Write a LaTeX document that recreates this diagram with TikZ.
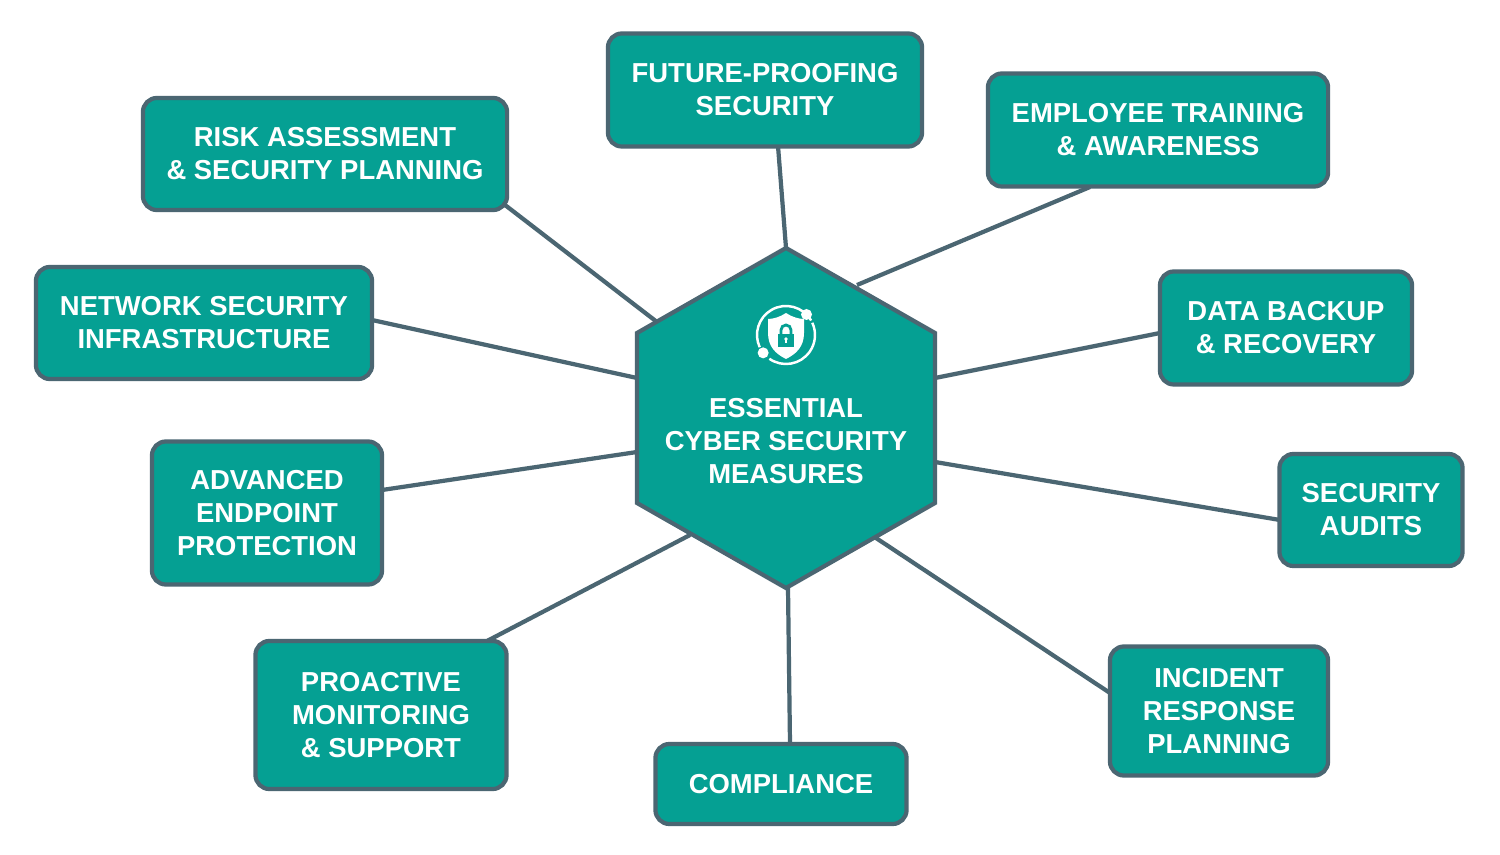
\documentclass[tikz,border=0pt]{standalone}
\usepackage{fontspec}
\setmainfont{Liberation Sans}
\begin{document}
\begin{tikzpicture}[x=0.01cm,y=-0.01cm,
  teal/.style={fill=tealc,draw=edgec,line width=1.2pt},
  box/.style={teal,rounded corners=4pt,text=white,align=center,inner sep=0pt,
    font=\bfseries\fontsize{7.8}{9.4}\selectfont},
  conn/.style={draw=edgec,line width=1.2pt}]
\definecolor{tealc}{HTML}{05A093}
\definecolor{edgec}{HTML}{4B6672}
\useasboundingbox[fill=white] (0,0) rectangle (1500,855);
\coordinate (r1) at (505,205); \coordinate (h1) at (657,322);
\coordinate (r2) at (778,146); \coordinate (h2) at (786,248);
\coordinate (r3) at (1090,187); \coordinate (h3) at (857,285);
\coordinate (r4) at (372,320); \coordinate (h4) at (637,378);
\coordinate (r5) at (1160,333); \coordinate (h5) at (935,378);
\coordinate (r6) at (382,490); \coordinate (h6) at (637,452);
\coordinate (r7) at (1280,520); \coordinate (h7) at (935,462);
\coordinate (r8) at (487,641); \coordinate (h8) at (690,535);
\coordinate (r9) at (790,744); \coordinate (h9) at (788,588);
\coordinate (r10) at (1110,693); \coordinate (h10) at (876,538);
\foreach \i in {1,...,10}{\draw[conn] (r\i) -- (h\i);}
% hexagon
\draw[teal] (786,248) -- (935,333) -- (935,503) -- (786,588) -- (637,503) -- (637,333) -- cycle;
\node[text=white,align=center,font=\bfseries\fontsize{7.8}{9.4}\selectfont] (hex) at (786,441)
  {ESSENTIAL\\CYBER SECURITY\\MEASURES};
% icon
\begin{scope}[shift={(786,335)}]
  \draw[white,line width=0.7pt] (-30:29) arc (-30:-205:29);
  \draw[white,line width=0.7pt] (-235:29) arc (-235:-385:29);
  \fill[white] (-45:29) circle (5.5);
  \fill[white] (-218:29) circle (5.5);
  \fill[white] (0,-22) .. controls (6,-18) and (13,-16) .. (18,-16) -- (18,-2)
     .. controls (18,12) and (10,19) .. (0,24) .. controls (-10,19) and (-18,12) .. (-18,-2)
     -- (-18,-16) .. controls (-13,-16) and (-6,-18) .. cycle;
  \fill[tealc] (-8,-1) rectangle (8,12);
  \draw[tealc,line width=0.8pt] (-5,-1) -- (-5,-5) arc (180:360:5) -- (5,-1);
  \fill[white] (0,4) circle (1.8); \fill[white] (-0.8,4) rectangle (0.8,8);
\end{scope}
% boxes
\node[box,minimum width=3.14cm,minimum height=1.13cm] (fut) at (765,90) {FUTURE-PROOFING\\SECURITY};
\node[box,minimum width=3.64cm,minimum height=1.12cm] (risk) at (325,154) {RISK ASSESSMENT\\\& SECURITY PLANNING};
\node[box,minimum width=3.40cm,minimum height=1.13cm] (emp) at (1158,130) {EMPLOYEE TRAINING\\\& AWARENESS};
\node[box,minimum width=3.36cm,minimum height=1.12cm] (net) at (204,323) {NETWORK SECURITY\\INFRASTRUCTURE};
\node[box,minimum width=2.52cm,minimum height=1.13cm] (data) at (1286,328) {DATA BACKUP\\\& RECOVERY};
\node[box,minimum width=2.30cm,minimum height=1.43cm] (adv) at (267,513) {ADVANCED\\ENDPOINT\\PROTECTION};
\node[box,minimum width=1.83cm,minimum height=1.12cm] (aud) at (1371,510) {SECURITY\\AUDITS};
\node[box,minimum width=2.51cm,minimum height=1.48cm] (pro) at (381,715) {PROACTIVE\\MONITORING\\\& SUPPORT};
\node[box,minimum width=2.51cm,minimum height=0.80cm] (comp) at (781,784) {COMPLIANCE};
\node[box,minimum width=2.18cm,minimum height=1.29cm] (inc) at (1219,711) {INCIDENT\\RESPONSE\\PLANNING};
\end{tikzpicture}
\end{document}
